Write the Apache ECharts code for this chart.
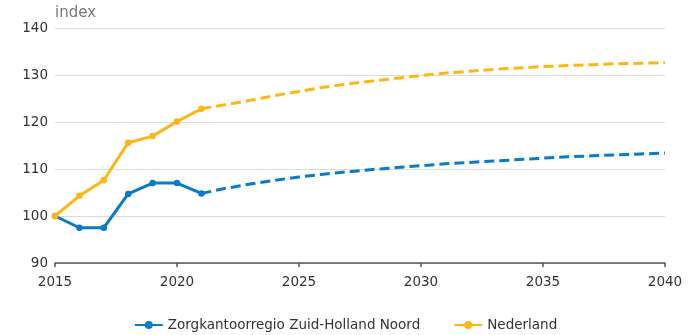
<!DOCTYPE html>
<html>
<head>
<meta charset="utf-8">
<style>
  html, body { margin: 0; padding: 0; background: #fff; }
  #chart { width: 691px; height: 335px; }
</style>
<script src="https://cdn.jsdelivr.net/npm/echarts@6/dist/echarts.min.js"></script>
</head>
<body>
<div id="chart"></div>
<script>
// Index (2015 = 100): observed years and projection
const regionName = 'Zorgkantoorregio Zuid-Holland Noord';
const countryName = 'Nederland';

const observedYears = [2015, 2016, 2017, 2018, 2019, 2020, 2021];
const regionObserved = [100, 97.5, 97.5, 104.7, 107.0, 107.0, 104.8];
const countryObserved = [100, 104.3, 107.6, 115.6, 117.0, 120.1, 122.8];

const projectedYears = [2021, 2022, 2023, 2024, 2025, 2026, 2027, 2028, 2029, 2030,
  2031, 2032, 2033, 2034, 2035, 2036, 2037, 2038, 2039, 2040];
const regionProjected = [104.8, 105.9, 106.8, 107.6, 108.3, 108.9, 109.4, 109.9, 110.3, 110.7,
  111.1, 111.4, 111.7, 112.0, 112.3, 112.6, 112.8, 113.0, 113.2, 113.4];
const countryProjected = [122.8, 123.7, 124.6, 125.6, 126.5, 127.4, 128.1, 128.7, 129.3, 129.9,
  130.4, 130.8, 131.2, 131.5, 131.8, 132.0, 132.2, 132.4, 132.5, 132.6];

const yTicks = [90, 100, 110, 120, 130, 140];
const xTicks = [2015, 2020, 2025, 2030, 2035, 2040];

const blue = '#0a7bc6';
const orange = '#ffb612';
const font = 'DejaVu Sans';
const labelSize = 13.5;

const pairs = (xs, ys) => xs.map((x, i) => [x, ys[i]]);

const chart = echarts.init(document.getElementById('chart'), null, { renderer: 'canvas' });

function observed(name, color, xs, ys) {
  return {
    name, type: 'line', data: pairs(xs, ys),
    symbol: 'circle', symbolSize: 6.5, showSymbol: true,
    lineStyle: { color, width: 3 }, itemStyle: { color },
    z: 3
  };
}
function projected(name, color, xs, ys) {
  return {
    name, type: 'line', data: pairs(xs, ys), smooth: false,
    symbol: 'none', showSymbol: false,
    lineStyle: { color, width: 3, type: [10, 5] }, itemStyle: { color },
    z: 2
  };
}

chart.setOption({
  animation: false,
  textStyle: { fontFamily: font },
  grid: { left: 55, right: 26, top: 28, bottom: 72, containLabel: false },
  legend: {
    data: [regionName, countryName],
    bottom: -2, left: 'center',
    itemWidth: 28, itemHeight: 10, itemGap: 33,
    textStyle: { fontFamily: font, fontSize: labelSize, color: '#333' }
  },
  xAxis: {
    type: 'value', min: xTicks[0], max: xTicks[xTicks.length - 1], interval: 5,
    axisLine: { show: true, lineStyle: { color: '#555', width: 1.5 } },
    axisTick: { show: true, length: 4, lineStyle: { color: '#555', width: 1.5 } },
    axisLabel: { color: '#333', fontSize: labelSize, margin: 12, fontFamily: font,
      formatter: v => String(v) },
    splitLine: { show: false }
  },
  yAxis: {
    type: 'value', min: yTicks[0], max: yTicks[yTicks.length - 1], interval: 10,
    name: 'index', nameLocation: 'end', nameGap: 7,
    nameTextStyle: { color: '#777', fontSize: 15, align: 'left', fontFamily: font },
    axisLine: { show: false }, axisTick: { show: false },
    axisLabel: { color: '#333', fontSize: labelSize, margin: 7, fontFamily: font },
    splitLine: { lineStyle: { color: '#dcdcdc', width: 1 } }
  },
  series: [
    observed(regionName, blue, observedYears, regionObserved),
    projected(regionName, blue, projectedYears, regionProjected),
    observed(countryName, orange, observedYears, countryObserved),
    projected(countryName, orange, projectedYears, countryProjected)
  ]
});
</script>
</body>
</html>
